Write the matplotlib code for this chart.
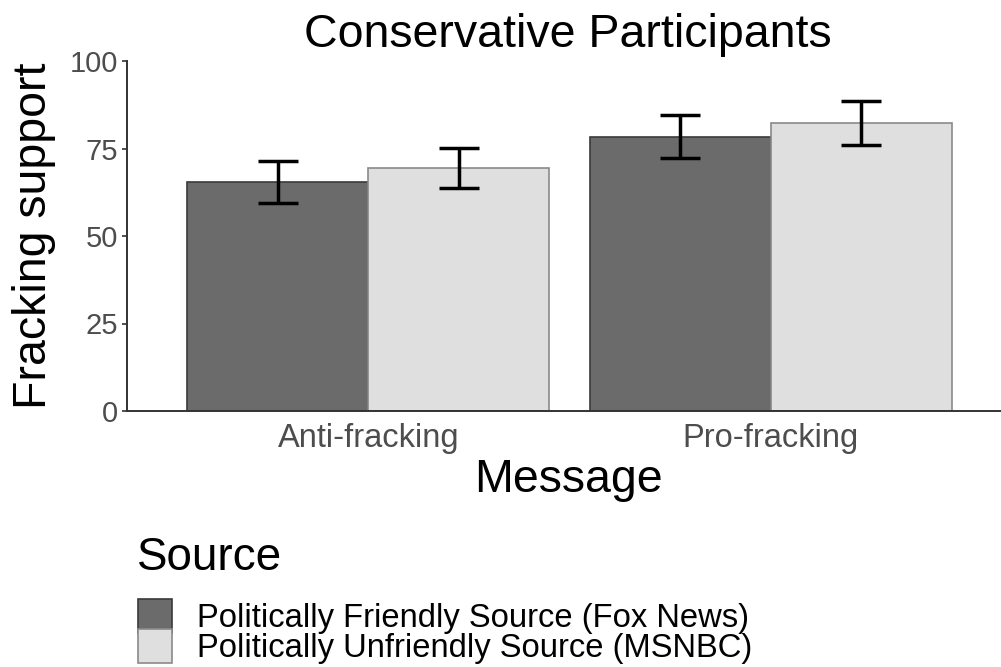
import matplotlib.pyplot as plt
from matplotlib.patches import Patch

plt.rcParams["font.family"] = ["Liberation Sans", "DejaVu Sans"]

messages = ["Anti-fracking", "Pro-fracking"]
sources = ["Politically Friendly Source (Fox News)", "Politically Unfriendly Source (MSNBC)"]
means = {
    sources[0]: [65.5, 78.4],
    sources[1]: [69.4, 82.3],
}
errors = {
    sources[0]: [6.0, 6.1],
    sources[1]: [5.7, 6.2],
}
fills = ["#6b6b6b", "#dfdfdf"]
edges = ["#3a3a3a", "#8a8a8a"]

fig = plt.figure(figsize=(10.01, 6.67), dpi=100)
ax = fig.add_axes([127 / 1001, 256 / 667, 873 / 1001, 350 / 667])

width = 0.45
offsets = [-width / 2, width / 2]
xs = list(range(len(messages)))
for src, off, fc, ec in zip(sources, offsets, fills, edges):
    pos = [x + off for x in xs]
    ax.bar(pos, means[src], width=width, color=fc, edgecolor=ec, linewidth=1.2, zorder=2)
    ax.errorbar(pos, means[src], yerr=errors[src], fmt="none", ecolor="black",
                elinewidth=2.5, capsize=14.4, capthick=2.5, zorder=3)

ax.set_xlim(-0.6, 1.57)
ax.set_ylim(0, 100)
ax.set_yticks([0, 25, 50, 75, 100])
ax.set_xticks(xs)
ax.set_xticklabels(messages)
for s in ["top", "right"]:
    ax.spines[s].set_visible(False)
for s in ["left", "bottom"]:
    ax.spines[s].set_color("#333333")
    ax.spines[s].set_linewidth(1.4)
ax.tick_params(axis="x", length=0, pad=8.8, labelsize=23.5, labelcolor="#4d4d4d")
ax.tick_params(axis="y", length=3.6, width=1.2, color="#333333", pad=3,
               labelsize=21, labelcolor="#4d4d4d")

fig.text(568 / 1001, (667 - 47) / 667, "Conservative Participants", ha="center",
         va="baseline", fontsize=33.5)
fig.text(568 / 1001, (667 - 492) / 667, "Message", ha="center", va="baseline", fontsize=33.5)
fig.text(34 / 1001, (667 - 236) / 667, "Fracking support", rotation=90, ha="center",
         va="center", fontsize=33.5)

# legend title drawn separately so its gap to the keys can be set freely
fig.text(137 / 1001, (667 - 570) / 667, "Source", ha="left", va="baseline", fontsize=33)
handles = [Patch(facecolor=fc, edgecolor=ec, linewidth=1.2) for fc, ec in zip(fills, edges)]
leg = fig.legend(handles, sources, loc="upper left",
                 bbox_to_anchor=(138 / 1001, (667 - 599) / 667), frameon=False,
                 fontsize=23.6, handlelength=1.04, handleheight=1.2,
                 handletextpad=0.76, labelspacing=-0.14, borderpad=0,
                 borderaxespad=0)

fig.savefig("out.png", dpi=100)
